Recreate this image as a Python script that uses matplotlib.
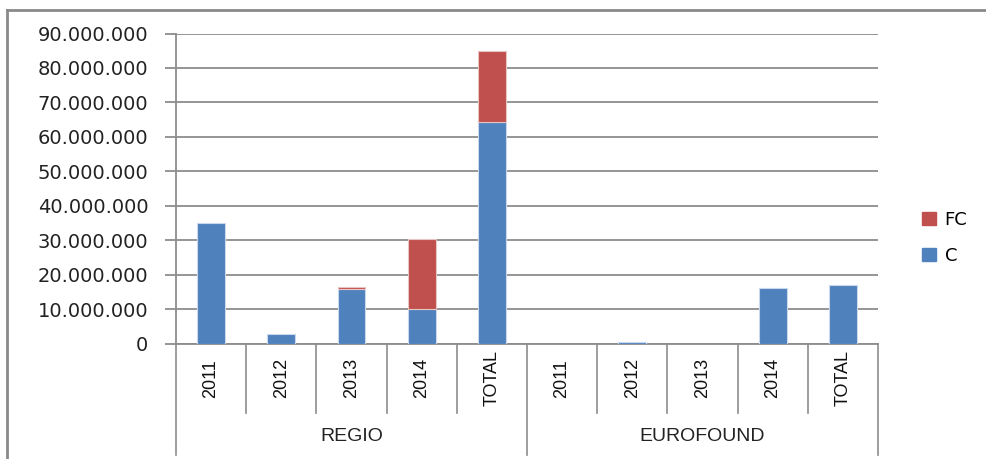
import matplotlib
matplotlib.use("Agg")
import matplotlib.pyplot as plt
import matplotlib.patches as mpatches
import matplotlib.lines as mlines
from matplotlib.ticker import FuncFormatter, MultipleLocator
import matplotlib.transforms as mtransforms

# data
groups = ["REGIO", "EUROFOUND"]
years = ["2011", "2012", "2013", "2014", "TOTAL"]
c_regio = [35100000, 2700000, 15800000, 10050000, 64200000]
fc_regio = [0, 0, 550000, 20300000, 20600000]
c_euro = [0, 400000, 0, 16200000, 16900000]
fc_euro = [0, 0, 0, 0, 0]

blue = "#4F81BD"
red = "#C0504D"
grid_col = "#8c8c8c"

c_vals = c_regio + c_euro
fc_vals = fc_regio + fc_euro
labels = years + years
x = list(range(len(labels)))

fig = plt.figure(figsize=(9.87, 4.59), dpi=100)
ax = fig.add_axes([176/987, 115.3/459, 702/987, 310.2/459])

# only draw non-empty segments, so zero-height bars leave no edge line
xc = [i for i in x if c_vals[i] > 0]
ax.bar(xc, [c_vals[i] for i in xc], width=0.395, color=blue,
       edgecolor="#c9d8ec", linewidth=0.8, zorder=3)
xf = [i for i in x if fc_vals[i] > 0]
ax.bar(xf, [fc_vals[i] for i in xf], width=0.395, bottom=[c_vals[i] for i in xf],
       color=red, edgecolor="#e8c4c3", linewidth=0.8, zorder=3)

ax.set_xlim(-0.5, len(labels) - 0.5)
ax.set_ylim(0, 90000000)
ax.yaxis.set_major_locator(MultipleLocator(10000000))
ax.yaxis.set_major_formatter(FuncFormatter(lambda v, p: f"{int(v):,}".replace(",", ".")))
ax.grid(axis="y", color=grid_col, linewidth=1.3, zorder=0)
ax.tick_params(axis="y", length=8, width=1.3, color=grid_col, pad=12,
               labelsize=14, labelcolor="#222222")
ax.set_xticks([])

for s in ["top", "right"]:
    ax.spines[s].set_visible(False)
for s in ["left", "bottom"]:
    ax.spines[s].set_color(grid_col)
    ax.spines[s].set_linewidth(1.3)

# category separators and labels below the axis
trans = mtransforms.blended_transform_factory(ax.transData, ax.transAxes)
for i in range(len(labels) + 1):
    xs = i - 0.5
    y_end = -0.359 if i % 5 == 0 else -0.2234
    ax.plot([xs, xs], [0, y_end], color=grid_col, lw=1.2, transform=trans,
            clip_on=False)
for i, lab in enumerate(labels):
    ax.text(i, -0.111, lab, rotation=90, ha="center", va="center", fontsize=13,
            family="Liberation Sans", color="#111111", transform=trans)
for g, name in enumerate(groups):
    ax.text(g * 5 + 2, -0.30, name, ha="center", va="center", fontsize=14,
            family="Liberation Sans", color="#222222", transform=trans)

# legend
handles = [mpatches.Patch(color=red, label="FC"), mpatches.Patch(color=blue, label="C")]
fig.legend(handles=handles, loc="center left", bbox_to_anchor=(922/987, 0.482),
           frameon=False, fontsize=13, handlelength=0.8, handleheight=0.8,
           handletextpad=0.45, labelspacing=1.0, borderpad=0, borderaxespad=0)

# outer chart border (top and left visible)
fig.add_artist(mlines.Line2D([7/987, 1.0], [1 - 10/459, 1 - 10/459], color="#8a8a8a", lw=2))
fig.add_artist(mlines.Line2D([7/987, 7/987], [0, 1 - 10/459], color="#8a8a8a", lw=2))

fig.savefig("out.png", dpi=100)
